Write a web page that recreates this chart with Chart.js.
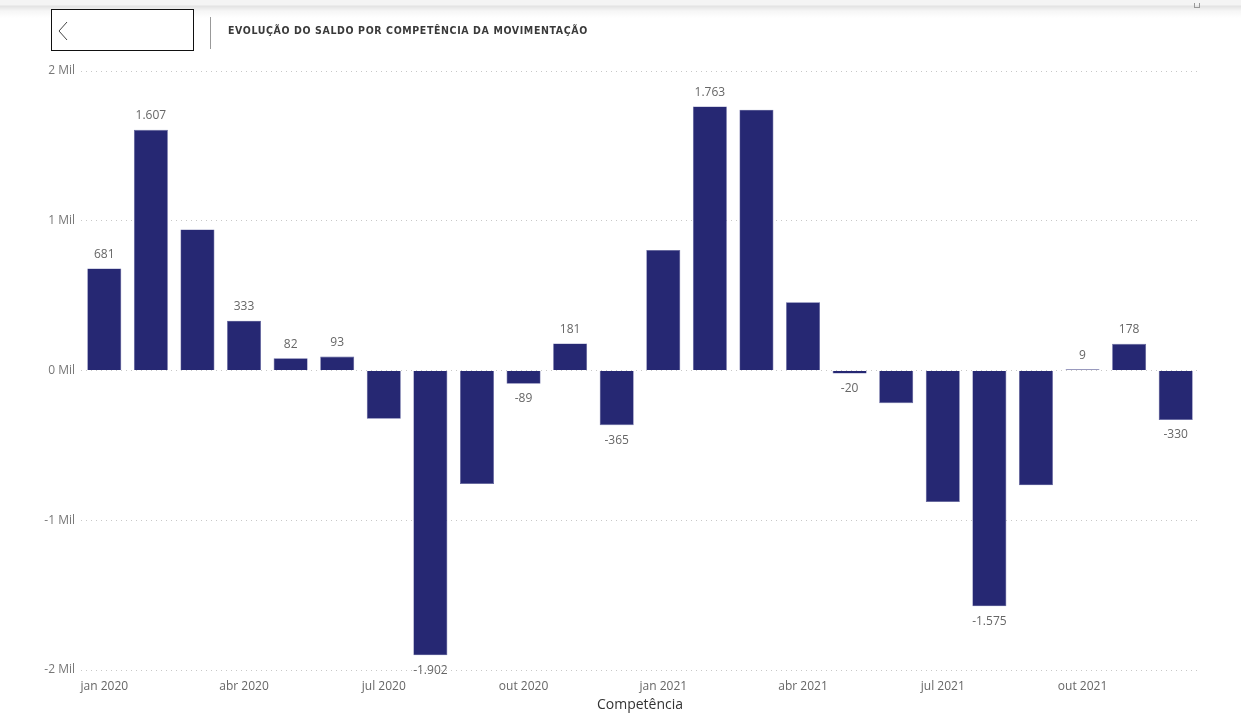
<!DOCTYPE html>
<html lang="pt-BR">
<head>
<meta charset="utf-8">
<script src="https://cdn.jsdelivr.net/npm/chart.js@4"></script>
<style>
  html, body { margin: 0; padding: 0; background: #fff; }
  body { width: 1241px; height: 715px; position: relative; overflow: hidden; font-family: "Open Sans", "Noto Sans", sans-serif; }
  .topbar { position: absolute; left: 0; top: 0; width: 1241px; height: 18px;
    background: linear-gradient(#f4f4f4 0px, #f4f4f4 5px, #e2e2e2 6px, #f6f6f6 11px, #fff 18px); }
  .back { position: absolute; left: 51px; top: 9px; width: 141px; height: 40px; border: 1px solid #111; background: #fff; }
  .back svg { position: absolute; left: 5px; top: 11px; }
  .sep { position: absolute; left: 210px; top: 17px; width: 1px; height: 32px; background: #999; }
  .title { position: absolute; left: 228px; top: 24px; font-family: "DejaVu Sans Condensed", "Liberation Sans", sans-serif;
    font-weight: bold; font-size: 10.5px; letter-spacing: 0.62px; color: #3a3a3a; white-space: nowrap; }
  .icon { position: absolute; left: 1194px; top: 3px; width: 4px; height: 4px; border: 1px solid #999; border-top: none; }
  #wrap { position: absolute; left: 0; top: 0; width: 1241px; height: 715px; }
</style>
</head>
<body>
<div id="wrap"><canvas id="saldoChart" width="1241" height="715"></canvas></div>
<div class="topbar"></div>
<div class="back"><svg width="12" height="20" viewBox="0 0 12 20"><polyline points="10,1 2,10 10,19" fill="none" stroke="#444" stroke-width="1"/></svg></div>
<div class="sep"></div>
<div class="title">EVOLUÇÃO DO SALDO POR COMPETÊNCIA DA MOVIMENTAÇÃO</div>
<div class="icon"></div>
<script>
// competências (meses) e saldo mensal
const categories = [
  "jan 2020", "fev 2020", "mar 2020", "abr 2020", "mai 2020", "jun 2020",
  "jul 2020", "ago 2020", "set 2020", "out 2020", "nov 2020", "dez 2020",
  "jan 2021", "fev 2021", "mar 2021", "abr 2021", "mai 2021", "jun 2021",
  "jul 2021", "ago 2021", "set 2021", "out 2021", "nov 2021", "dez 2021"
];
const saldo = [
  681, 1607, 942, 333, 82, 93, -322, -1902, -758, -89, 181, -365,
  805, 1763, 1742, 455, -20, -218, -878, -1575, -767, 9, 178, -330
];
// rótulos de dados que o visual original mostra
const showLabel = [
  true, true, false, true, true, true, false, true, false, true, true, true,
  false, true, false, false, true, false, false, true, false, true, true, true
];
const xTickLabels = ["jan 2020", "abr 2020", "jul 2020", "out 2020", "jan 2021", "abr 2021", "jul 2021", "out 2021"];
const yTicks = [-2000, -1000, 0, 1000, 2000];

const fmt = new Intl.NumberFormat("pt-BR");

// desenha os valores acima/abaixo das barras
const dataLabels = {
  id: "dataLabels",
  afterDatasetsDraw(chart) {
    const { ctx } = chart;
    const meta = chart.getDatasetMeta(0);
    ctx.save();
    ctx.font = "12px 'Open Sans', 'Noto Sans', sans-serif";
    ctx.fillStyle = "#666";
    ctx.textAlign = "center";
    ctx.textBaseline = "middle";
    meta.data.forEach((bar, i) => {
      if (!showLabel[i]) return;
      const v = saldo[i];
      const y = v >= 0 ? Math.min(bar.y, bar.base) - 14 : Math.max(bar.y, bar.base) + 15;
      ctx.fillText(fmt.format(v), bar.x, y);
    });
    ctx.restore();
  }
};

new Chart(document.getElementById("saldoChart"), {
  type: "bar",
  data: {
    labels: categories,
    datasets: [{
      label: "Saldo",
      data: saldo,
      backgroundColor: "#262873",
      borderColor: "#5a5c9a",
      borderWidth: 0.6,
      barPercentage: 0.73,
      categoryPercentage: 1.0
    }]
  },
  options: {
    responsive: false,
    animation: false,
    devicePixelRatio: 1,
    layout: { padding: { left: 0, right: 42, top: 71, bottom: 0 } },
    plugins: {
      legend: { display: false },
      tooltip: { enabled: false }
    },
    scales: {
      x: {
        grid: { display: false },
        border: { display: false },
        ticks: {
          autoSkip: false,
          maxRotation: 0,
          padding: 1,
          color: "#666",
          font: { family: "'Open Sans', 'Noto Sans', sans-serif", size: 12 },
          callback: (v, i) => xTickLabels.includes(categories[i]) ? categories[i] : ""
        },
        title: {
          display: true,
          text: "Competência",
          color: "#333",
          padding: { top: 0, bottom: 2 },
          font: { family: "'Open Sans', 'Noto Sans', sans-serif", size: 14 }
        },
        afterFit: (scale) => { scale.height = 45; }
      },
      y: {
        min: yTicks[0],
        max: yTicks[yTicks.length - 1],
        afterBuildTicks: (scale) => { scale.ticks = yTicks.map(v => ({ value: v })); },
        grid: {
          color: "#c8c8c8",
          lineWidth: 1,
          drawTicks: false
        },
        border: { display: false, dash: [1, 4] },
        ticks: {
          padding: 6,
          color: "#777",
          font: { family: "'Open Sans', 'Noto Sans', sans-serif", size: 12 },
          callback: (v) => (v / 1000) + " Mil"
        },
        afterFit: (scale) => { scale.width = 81; }
      }
    }
  },
  plugins: [dataLabels]
});
</script>
</body>
</html>
